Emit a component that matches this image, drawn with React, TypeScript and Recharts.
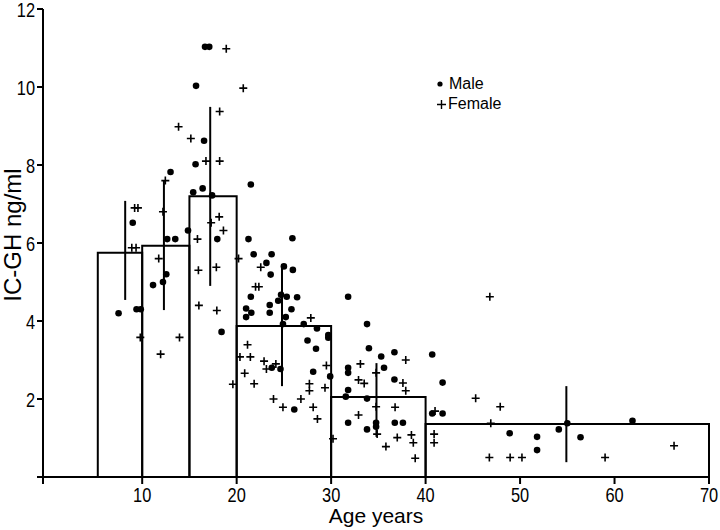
import React from 'react';
import {
  ScatterChart,
  Scatter,
  XAxis,
  YAxis,
  ReferenceArea,
  ReferenceLine,
  Legend,
} from 'recharts';

// Age bins (histogram-like mean bars)
const binStart = [5.3, 10, 15, 20, 30, 40];
const binEnd = [10, 15, 20, 30, 40, 70];
const binMean = [5.75, 5.93, 7.2, 3.87, 2.05, 1.36];

// Vertical range bars
const rangeAge = [8.2, 12.3, 17.2, 24.8, 34.8, 54.9];
const rangeLow = [4.54, 4.28, 4.9, 2.33, 1.03, 0.38];
const rangeHigh = [7.08, 7.6, 9.49, 5.46, 2.92, 2.33];

// Male individual values
const maleAge = [
  7.5, 9.0, 9.4, 9.85,
  11.15, 12.2, 12.55, 12.65, 13.5, 13.0, 14.85,
  15.4, 15.65, 15.7, 16.4, 16.55, 16.65, 17.1, 17.4, 17.95, 18.4,
  21.0, 21.0, 21.55, 21.5, 21.25, 21.5, 21.8, 23.15, 23.6, 23.7, 23.5, 23.5, 23.72,
  24.4, 24.7, 24.64, 24.9, 25.0, 25.2, 25.3, 25.8, 25.95, 25.9, 26.1, 26.4, 27.1,
  27.5, 28.1, 28.4, 28.5, 29.7, 29.7, 29.9,
  31.55, 31.8, 31.8, 31.8, 31.8, 31.8, 33.8, 33.8, 33.8, 34.0, 34.76, 34.76, 35.3,
  35.6, 36.7, 36.7, 36.74, 37.6,
  40.7, 41.8, 40.7, 41.8, 48.9, 51.8, 51.8, 54.1, 55.0, 56.4, 61.9,
];
const maleLevel = [
  4.2, 6.52, 4.3, 4.3,
  4.92, 5.0, 5.2, 6.1, 6.1, 7.82, 6.32,
  7.3, 8.02, 10.03, 7.4, 8.62, 11.03, 11.03, 7.22, 6.1, 3.72,
  4.32, 4.1, 4.21, 4.62, 6.1, 7.5, 5.71, 5.49, 5.19, 5.71, 4.41, 4.21, 2.8,
  4.52, 4.67, 2.77, 3.92, 5.4, 4.1, 4.62, 4.3, 5.31, 6.12, 1.73, 4.61, 3.92,
  3.5, 2.7, 3.29, 3.81, 3.64, 3.57, 2.58,
  2.06, 4.62, 2.8, 2.67, 2.23, 1.39, 3.92, 2.01, 1.22, 3.3, 1.39, 1.29, 3.09,
  2.8, 3.2, 2.5, 1.39, 1.39,
  3.14, 2.42, 1.63, 1.63, 1.12, 1.03, 0.69, 1.22, 1.38, 1.02, 1.44,
];

// Female individual values
const femaleAge = [
  8.9, 9.35, 9.2, 9.55, 9.8,
  11.75, 11.95, 12.2, 12.45, 13.85, 13.95,
  15.15, 15.85, 15.95, 16.0, 16.75, 17.3, 17.85, 17.9, 18.2, 18.2, 18.15, 18.6, 18.9, 19.6,
  20.2, 20.35, 20.7, 20.85, 21.15, 21.45, 21.85, 22.0, 22.35, 22.55, 22.9, 23.15, 23.9,
  24.15, 24.9, 26.8, 27.7, 27.7, 27.85, 28.1, 28.55, 29.35, 29.5,
  30.2, 32.9, 32.9, 33.1, 33.5, 34.76, 34.76, 34.87, 35.8, 36.77, 37.0, 37.6, 37.9,
  37.9, 38.5, 38.7, 38.9,
  40.9, 40.9, 41.0, 45.3, 46.8, 46.9, 46.75, 47.9, 48.95, 50.2, 59.0, 66.3,
];
const femaleLevel = [
  5.88, 5.88, 6.9, 6.9, 3.58,
  5.6, 3.15, 6.8, 7.6, 8.98, 3.58,
  8.68, 6.1, 5.3, 4.4, 8.1, 6.52, 5.38, 4.27, 9.37, 8.1, 6.67, 6.32, 10.98, 2.38,
  5.6, 3.08, 9.97, 2.66, 3.39, 3.08, 2.39, 4.88, 4.88, 5.38, 2.97, 2.77, 2.0,
  2.9, 1.79, 2.0, 2.39, 2.21, 4.08, 1.79, 1.49, 2.29, 2.86,
  0.98, 2.49, 1.59, 2.9, 2.4, 2.67, 1.8, 1.1, 0.78, 1.79, 1.01, 2.41, 3.0,
  2.21, 1.08, 0.88, 0.48,
  1.1, 0.88, 1.69, 2.02, 4.62, 1.38, 0.5, 1.8, 0.5, 0.5, 0.5, 0.8,
];

const xTicks = [-0.5, 10, 20, 30, 40, 50, 60, 70];
const yTicks = [0, 2, 4, 6, 8, 10, 12];
const legendLabels = ['Male', 'Female'];

const maleData = maleAge.map((a, i) => ({ x: a, y: maleLevel[i] }));
const femaleData = femaleAge.map((a, i) => ({ x: a, y: femaleLevel[i] }));

const FONT = "'Liberation Sans', Arial, sans-serif";

const XTick = (props: any) => {
  const { x, y, payload } = props;
  if (payload.value < 0) return null;
  return (
    <g transform={`translate(${x},${y})`}>
      <text
        transform="scale(0.82,1)"
        textAnchor="middle"
        y={16}
        fontFamily={FONT}
        fontSize={20}
        fill="#000"
      >
        {payload.value}
      </text>
    </g>
  );
};

const YTick = (props: any) => {
  const { x, y, payload } = props;
  if (payload.value === 0) return null;
  return (
    <g transform={`translate(${x},${y})`}>
      <text
        transform="scale(0.82,1)"
        textAnchor="end"
        y={7.5}
        fontFamily={FONT}
        fontSize={20}
        fill="#000"
      >
        {payload.value}
      </text>
    </g>
  );
};

const MaleDot = (p: any) => <circle cx={p.cx} cy={p.cy} r={3.3} fill="#000" />;
const FemaleCross = (p: any) => (
  <path
    d={`M${p.cx - 4},${p.cy}h8M${p.cx},${p.cy - 4}v8`}
    stroke="#000"
    strokeWidth={1.6}
    fill="none"
  />
);

const LegendBox = () => (
  <div style={{ fontFamily: FONT, fontSize: 16, lineHeight: '20px', color: '#000', whiteSpace: 'nowrap' }}>
    {legendLabels.map((lab, i) => (
      <div key={lab} style={{ display: 'flex', alignItems: 'center', height: 20 }}>
        <svg width={10} height={20} style={{ display: 'block', marginRight: i === 0 ? 3 : 2 }}>
          {i === 0 ? (
            <circle cx={4} cy={10} r={2.6} fill="#000" />
          ) : (
            <path d="M1,10.5h9M5.5,6v9" stroke="#000" strokeWidth={1.4} fill="none" />
          )}
        </svg>
        <span style={{ color: '#000' }}>{lab}</span>
      </div>
    ))}
  </div>
);

export default function App() {
  return (
    <div style={{ position: 'absolute', left: 0, top: 0, background: '#fff' }}>
      <ScatterChart width={720} height={530} margin={{ top: 9, right: 11, bottom: 0, left: 0 }}>
        <XAxis
          dataKey="x"
          type="number"
          domain={[-0.5, 70]}
          ticks={xTicks}
          allowDataOverflow
          height={53}
          tickSize={7}
          tick={<XTick />}
          tickLine={{ stroke: '#000', strokeWidth: 2 }}
          axisLine={{ stroke: '#000', strokeWidth: 2 }}
          label={() => (
            <text x={376} y={523} textAnchor="middle" fontFamily={FONT} fontSize={21} fill="#000">
              Age years
            </text>
          )}
        />
        <YAxis
          dataKey="y"
          type="number"
          domain={[0, 12]}
          ticks={yTicks}
          width={43}
          tickSize={6}
          tick={<YTick />}
          tickLine={{ stroke: '#000', strokeWidth: 2 }}
          axisLine={{ stroke: '#000', strokeWidth: 2 }}
          label={() => (
            <text
              x={21}
              y={235}
              transform="rotate(-90 21 235)"
              textAnchor="middle"
              fontFamily={FONT}
              fontSize={24}
              fill="#000"
            >
              IC-GH ng/ml
            </text>
          )}
        />
        {binStart.map((s, i) => (
          <ReferenceArea
            key={`bin-${i}`}
            x1={s}
            x2={binEnd[i]}
            y1={0}
            y2={binMean[i]}
            fill="none"
            fillOpacity={0}
            stroke="#000"
            strokeWidth={2}
            strokeOpacity={1}
          />
        ))}
        <Scatter name="Male" data={maleData} shape={MaleDot} isAnimationActive={false} />
        <Scatter name="Female" data={femaleData} shape={FemaleCross} isAnimationActive={false} />
        {rangeAge.map((a, i) => (
          <ReferenceLine
            key={`rng-${i}`}
            segment={[
              { x: a, y: rangeLow[i] },
              { x: a, y: rangeHigh[i] },
            ]}
            stroke="#000"
            strokeWidth={2}
          />
        ))}
        <Legend
          layout="vertical"
          align="center"
          verticalAlign="middle"
          wrapperStyle={{ position: 'absolute', left: 436, top: 74, width: 'auto', height: 'auto' }}
          content={() => <LegendBox />}
        />
      </ScatterChart>
    </div>
  );
}
